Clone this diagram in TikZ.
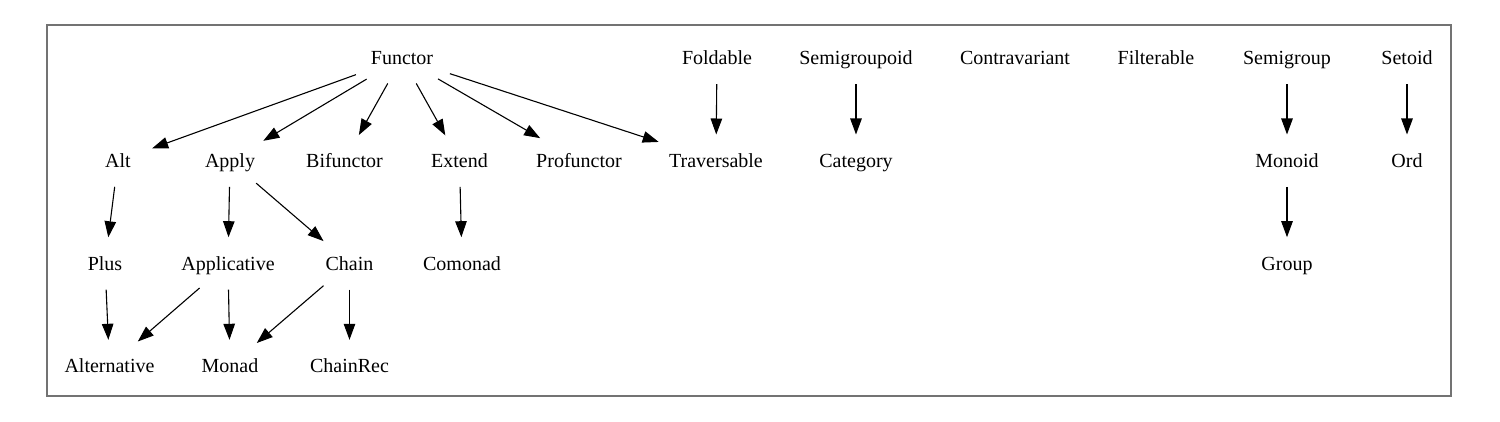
\documentclass[tikz,border=0pt]{standalone}
\usepackage{fontspec}
\setmainfont{Liberation Serif}
\usetikzlibrary{shapes.geometric,arrows.meta}
\begin{document}
\begin{tikzpicture}[x=1pt,y=-1pt,
  cls/.style={ellipse,draw=none,inner xsep=11pt,inner ysep=3pt,
    minimum height=52pt,minimum width=77pt,
    text height=13.5pt,text depth=0pt,
    font=\fontsize{20}{24}\selectfont},
  inh/.style={draw=black,line width=1.1pt,
    -{Triangle[length=16pt,width=11.5pt]}},
  frame/.style={draw=black!55,line width=1.1pt}]
\useasboundingbox (0,0) rectangle (1500,422);
\draw[frame] (47,25) rectangle (1451,396);
% row 1
\node[cls] (functor) at (402,58) {Functor};
\node[cls] (foldable) at (717,58) {Foldable};
\node[cls] (semigroupoid) at (856,58) {Semigroupoid};
\node[cls] (contravariant) at (1015,58) {Contravariant};
\node[cls] (filterable) at (1156,58) {Filterable};
\node[cls] (semigroup) at (1287,58) {Semigroup};
\node[cls] (setoid) at (1407,58) {Setoid};
% row 2
\node[cls] (alt) at (118,160.7) {Alt};
\node[cls] (apply) at (230,160.7) {Apply};
\node[cls] (bifunctor) at (344.5,160.7) {Bifunctor};
\node[cls] (extend) at (459.5,160.7) {Extend};
\node[cls] (profunctor) at (579,160.7) {Profunctor};
\node[cls] (traversable) at (716,160.7) {Traversable};
\node[cls] (category) at (856,160.7) {Category};
\node[cls] (monoid) at (1287,160.7) {Monoid};
\node[cls] (ord) at (1407,160.7) {Ord};
% row 3
\node[cls] (plus) at (105,263.4) {Plus};
\node[cls] (applicative) at (228,263.4) {Applicative};
\node[cls] (chain) at (349.5,263.4) {Chain};
\node[cls] (comonad) at (462,263.4) {Comonad};
\node[cls] (group) at (1287,263.4) {Group};
% row 4
\node[cls] (alternative) at (109.5,366) {Alternative};
\node[cls] (monad) at (230,366) {Monad};
\node[cls] (chainrec) at (349.5,366) {ChainRec};
% edges
\draw[inh] (functor) -- (alt);
\draw[inh] (functor) -- (apply);
\draw[inh] (functor) -- (bifunctor);
\draw[inh] (functor) -- (extend);
\draw[inh] (functor) -- (profunctor);
\draw[inh] (functor) -- (traversable);
\draw[inh] (foldable) -- (traversable);
\draw[inh] (semigroupoid) -- (category);
\draw[inh] (semigroup) -- (monoid);
\draw[inh] (monoid) -- (group);
\draw[inh] (setoid) -- (ord);
\draw[inh] (alt) -- (plus);
\draw[inh] (apply) -- (applicative);
\draw[inh] (apply) -- (chain);
\draw[inh] (extend) -- (comonad);
\draw[inh] (plus) -- (alternative);
\draw[inh] (applicative) -- (alternative);
\draw[inh] (applicative) -- (monad);
\draw[inh] (chain) -- (monad);
\draw[inh] (chain) -- (chainrec);
\end{tikzpicture}
\end{document}
